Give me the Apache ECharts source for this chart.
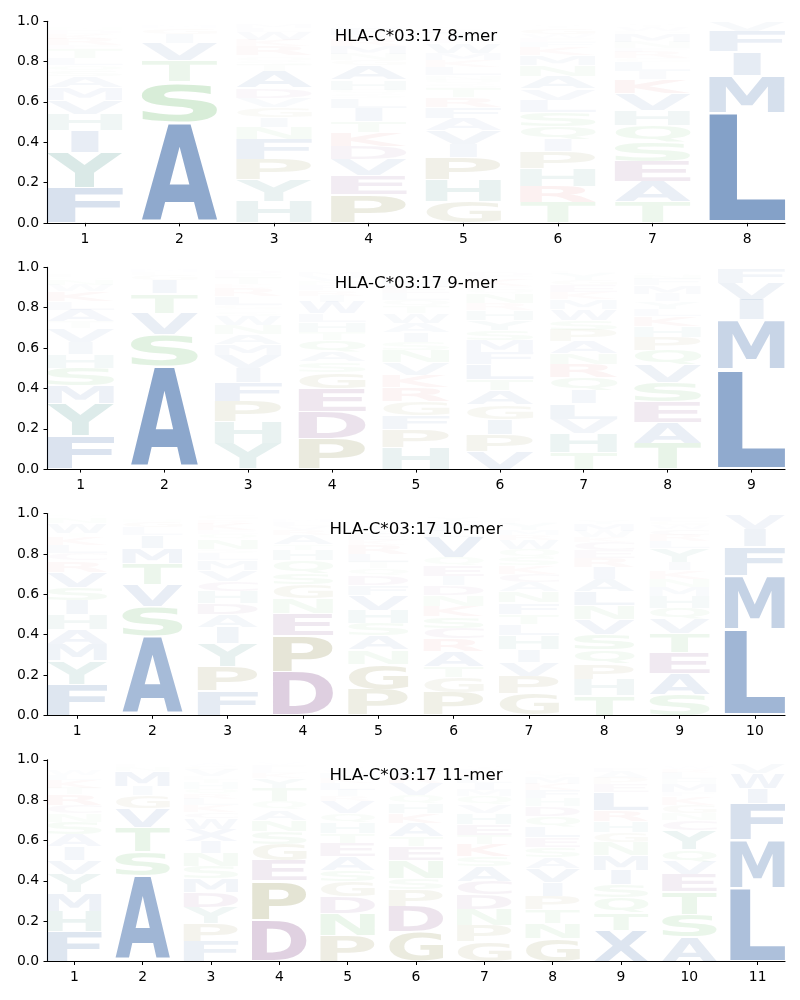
<!DOCTYPE html>
<html><head><meta charset="utf-8">
<style>html,body{margin:0;padding:0;background:#fff}#c{width:800px;height:1000px}</style>
<script src="https://cdn.jsdelivr.net/npm/echarts@6/dist/echarts.min.js"></script>
</head><body><div id="c"></div>
<script>
// Letters at each position, bottom to top, with the height of each letter's box.
const titles = ['HLA-C*03:17 8-mer','HLA-C*03:17 9-mer','HLA-C*03:17 10-mer','HLA-C*03:17 11-mer'];

const letters8 = ['FYIHVMASQLTERKDNCPG','ASTVIGMLC','HYPFNIGVDATSQERKWLM','PEVDKTILSQHAGNMRYFWC','GHPIVAFRTSQNLKMWEYDC','TRHPIQSLVANMKFEWGYDC','TAESQHVKILGRFNMDWYC','LMIFV'];
const heights8 = [
 [.175,.175,.11,.08,.07,.06,.055,.03,.025,.035,.045,.02,.03,.025,.02,.015,.01,.01,.01],
 [.5,.2,.105,.085,.045,.03,.015,.01,.01],
 [.106,.107,.102,.099,.061,.05,.05,.045,.05,.08,.03,.02,.02,.01,.045,.03,.04,.02,.02],
 [.14,.095,.08,.065,.067,.055,.068,.05,.02,.02,.05,.07,.025,.03,.04,.03,.025,.03,.015,.015],
 [.106,.109,.11,.065,.07,.06,.055,.05,.045,.02,.02,.02,.04,.035,.035,.05,.02,.03,.02,.015],
 [.1,.08,.09,.085,.06,.065,.07,.06,.055,.062,.053,.05,.04,.025,.02,.02,.03,.015,.01,.01],
 [.103,.102,.1,.095,.083,.077,.08,.07,.043,.044,.02,.03,.02,.03,.04,.015,.02,.015,.01],
 [.547,.183,.118,.1,.05]
];
const letters9 = ['FYMSHIVTALKWNQEGDC','ASVTIGEML','YHPFIVMANWSQGLRKTEDC','PDEGSAQTHLWIRFNVMCY','HPFGRKVNSIAWTQLEMDYC','VPIGATLFMSYHRNQEKCDW','THVLIQRNAPSWMKEGYDC','TAESVQPHKLYIMFNGDRC','LMIVF'];
const heights9 = [
 [.165,.16,.088,.089,.066,.062,.067,.033,.06,.04,.05,.03,.025,.015,.015,.01,.01,.01],
 [.512,.155,.105,.098,.067,.025,.015,.015,.008],
 [.127,.108,.1,.093,.072,.065,.055,.05,.045,.045,.02,.015,.02,.04,.04,.02,.03,.02,.02,.01],
 [.152,.133,.115,.08,.052,.05,.058,.04,.05,.04,.06,.03,.027,.023,.02,.025,.02,.01,.01],
 [.106,.089,.07,.07,.07,.06,.063,.06,.042,.05,.045,.05,.035,.03,.03,.03,.03,.02,.015,.01],
 [.088,.084,.076,.072,.07,.055,.075,.06,.058,.05,.05,.05,.035,.045,.02,.02,.03,.02,.02,.01],
 [.08,.097,.071,.077,.065,.065,.065,.053,.059,.058,.05,.055,.045,.035,.035,.025,.03,.015,.01],
 [.127,.103,.102,.098,.085,.075,.065,.055,.05,.035,.035,.038,.042,.03,.02,.015,.01,.01,.005],
 [.493,.247,.098,.085,.072]
];
const letters10 = ['FYMAHISVRECLKTWNQG','ASVTMILGNYE','FPYIADHCVMLSNQEKRGW','DPENGSQHTARVLMYFW','PGNASHVFDQTLRKEYIW','PGTARCSKNDIEQVLFMYW','GPVIHLTFNACKSQWRMYDE','THPQSVNLAIRECKWMYG','SAETVQHMNKIYLRCWGFD','LMFIV'];
const heights10 = [
 [.152,.118,.08,.075,.073,.072,.065,.073,.052,.01,.035,.04,.04,.018,.05,.025,.015,.01],
 [.395,.145,.11,.105,.075,.063,.037,.03,.015,.01,.008],
 [.122,.121,.115,.079,.063,.057,.058,.05,.055,.05,.035,.02,.05,.025,.02,.03,.02,.02,.01],
 [.215,.18,.11,.072,.07,.058,.063,.052,.025,.05,.025,.02,.02,.015,.01,.01,.005],
 [.127,.128,.07,.07,.06,.065,.075,.05,.05,.035,.03,.04,.045,.025,.03,.02,.02,.01],
 [.115,.075,.053,.075,.062,.053,.057,.053,.052,.048,.047,.052,.041,.1,.03,.03,.02,.02,.01],
 [.106,.089,.07,.063,.07,.055,.05,.055,.055,.047,.042,.04,.04,.04,.045,.025,.025,.03,.015,.015],
 [.098,.079,.078,.07,.078,.075,.067,.07,.061,.059,.045,.04,.04,.025,.03,.035,.02,.01],
 [.103,.102,.104,.098,.071,.054,.058,.047,.04,.04,.043,.07,.035,.03,.03,.02,.02,.02,.01],
 [.425,.265,.145,.085,.075]
];
const letters11 = ['FHMYVIASNCRTKLWEQGD','ASTVGIMNEQ','FPYDMSNIXWCKLRQHTEVGA','DPEGSNAQTYKLFV','PNDGSAETHQVRILKMWYC','GDPSNETAKHQVRFYLIM','GPNDCASKTEHVQMILRFYW','GNTPIVASELQDHFKMYR','XTQSIMNGHRLEPAFYK','ASTEVQYCNGKFMHLRWD','LMFIWV'];
const heights11 = [
 [.15,.1,.09,.093,.07,.067,.06,.063,.042,.04,.053,.03,.04,.025,.025,.01,.01,.01,.005],
 [.425,.12,.12,.095,.065,.045,.075,.02,.015,.01],
 [.098,.09,.08,.073,.07,.06,.065,.06,.06,.055,.03,.035,.03,.025,.025,.03,.02,.015,.03,.02,.015],
 [.205,.195,.098,.082,.065,.057,.05,.041,.067,.05,.025,.02,.02,.015],
 [.13,.108,.082,.075,.058,.067,.066,.05,.054,.045,.058,.025,.032,.035,.025,.025,.015,.015,.01],
 [.147,.125,.083,.055,.09,.07,.05,.065,.05,.05,.04,.06,.03,.03,.02,.015,.01,.01],
 [.098,.082,.078,.072,.068,.072,.05,.063,.044,.055,.053,.042,.041,.032,.035,.03,.02,.02,.015,.01],
 [.114,.076,.07,.065,.065,.07,.055,.05,.05,.055,.05,.05,.04,.04,.03,.03,.02,.015],
 [.155,.085,.075,.065,.073,.072,.065,.05,.055,.055,.09,.04,.03,.03,.02,.01,.01],
 [.12,.115,.11,.085,.065,.058,.097,.05,.035,.04,.043,.02,.04,.025,.03,.02,.015,.01],
 [.365,.24,.18,.075,.075,.05]
];

const panelLetters = [letters8, letters9, letters10, letters11];
const panelHeights = [heights8, heights9, heights10, heights11];
const panelTops = [21.2, 267.4, 513.6, 759.8];
const panelHeight = 201.7;
const titleYs = [36.5, 283.5, 529.5, 775.5];

// Residue colour groups
const groupColors = {
  blue:   [0,60,142], green: [36,155,36], olive: [96,92,0],
  purple: [82,0,88],  teal:  [10,110,100], red:  [200,30,30]
};
const letterGroup = {A:'blue',L:'blue',M:'blue',F:'blue',I:'blue',V:'blue',W:'blue',X:'blue',
  S:'green',T:'green',N:'green',Q:'green',G:'olive',P:'olive',D:'purple',E:'purple',C:'purple',
  K:'red',R:'red',H:'teal',Y:'teal'};
// share of the box width the narrow letter takes
const letterWidth = {I:0.36};

const FONT = 'bold 100px "DejaVu Sans"';
const ctx = document.createElement('canvas').getContext('2d');
ctx.font = FONT; ctx.textBaseline = 'middle'; ctx.textAlign = 'left';
const glyph = {};
function glyphBox(ch){
  if(!glyph[ch]){ const m = ctx.measureText(ch);
    glyph[ch] = {l:m.actualBoundingBoxLeft, r:m.actualBoundingBoxRight, a:m.actualBoundingBoxAscent, d:m.actualBoundingBoxDescent}; }
  return glyph[ch];
}
// taller letters are more opaque; small ones fade out quickly
function letterOpacity(h){ return Math.min(1, 0.88*h*(1-Math.exp(-h/0.04))); }

const grid=[], xAxis=[], yAxis=[], series=[], title=[];
panelLetters.forEach((letters,p)=>{
  const L = letters.length;
  const ticks = letters.map((_,i)=>i+1);
  grid.push({left:47,right:15,top:panelTops[p],height:panelHeight,containLabel:false});
  xAxis.push({type:'value',gridIndex:p,min:0.6,max:L+0.4,splitLine:{show:false},
    axisLine:{show:true,lineStyle:{color:'#000',width:1.1}},
    axisTick:{show:true,length:3.5,lineStyle:{color:'#000',width:1},customValues:ticks},
    axisLabel:{color:'#000',fontFamily:'DejaVu Sans',fontSize:13.9,margin:9,customValues:ticks,formatter:v=>String(v)}});
  yAxis.push({type:'value',gridIndex:p,min:0,max:1,interval:0.2,splitLine:{show:false},
    axisLine:{show:true,lineStyle:{color:'#000',width:1.1}},
    axisTick:{show:true,length:3.5,lineStyle:{color:'#000',width:1}},
    axisLabel:{color:'#000',fontFamily:'DejaVu Sans',fontSize:13.9,margin:8,formatter:v=>v.toFixed(1)}});
  title.push({text:titles[p],left:416,top:titleYs[p],padding:0,textAlign:'center',textVerticalAlign:'middle',
    textStyle:{fontFamily:'DejaVu Sans',fontSize:16.67,fontWeight:'normal',color:'#000'}});
  const rows=[], chars=[];
  letters.forEach((str,i)=>{
    let base=0;
    str.split('').forEach((ch,j)=>{
      const h=panelHeights[p][i][j];
      rows.push([i+1,base,h]); chars.push(ch); base+=h;
    });
  });
  series.push({type:'custom',coordinateSystem:'cartesian2d',xAxisIndex:p,yAxisIndex:p,
    clip:false,silent:true,animation:false,encode:{x:0,y:1},data:rows,z:1,
    renderItem:(params,api)=>{
      const pos=api.value(0), b=api.value(1), h=api.value(2), ch=chars[params.dataIndex];
      const pad=h*0.025, half=0.4*(letterWidth[ch]||1);
      const tl=api.coord([pos-half,b+h-pad]), br=api.coord([pos+half,b+pad]);
      const g=glyphBox(ch), sx=(br[0]-tl[0])/(g.l+g.r), sy=(br[1]-tl[1])/(g.a+g.d);
      const c=groupColors[letterGroup[ch]];
      return {type:'text',x:tl[0]+g.l*sx,y:tl[1]+g.a*sy,scaleX:sx,scaleY:sy,silent:true,
        style:{text:ch,x:0,y:0,font:FONT,align:'left',verticalAlign:'middle',textAlign:'left',textVerticalAlign:'middle',
          fill:`rgb(${c[0]},${c[1]},${c[2]})`,opacity:letterOpacity(h)}};
    }});
});
const chart=echarts.init(document.getElementById('c'),null,{renderer:'canvas',width:800,height:1000});
chart.setOption({animation:false,backgroundColor:'#fff',title,grid,xAxis,yAxis,series});
</script></body></html>
